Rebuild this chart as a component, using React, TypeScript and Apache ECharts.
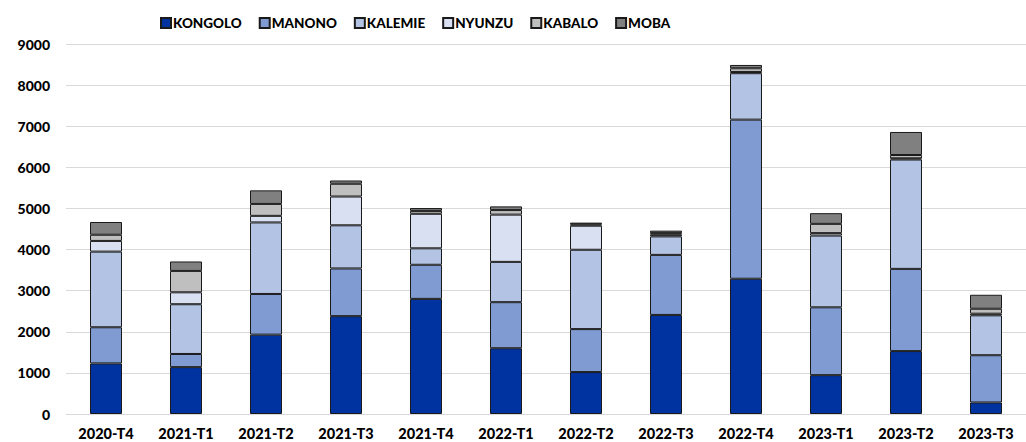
import React, { useEffect, useRef } from "react";
import * as echarts from "echarts";

const categories = ["2020-T4", "2021-T1", "2021-T2", "2021-T3", "2021-T4", "2022-T1", "2022-T2", "2022-T3", "2022-T4", "2023-T1", "2023-T2", "2023-T3"];
const kongolo = [1230, 1140, 1930, 2380, 2800, 1600, 1020, 2410, 3290, 945, 1530, 280];
const manono = [880, 320, 990, 1160, 830, 1120, 1045, 1460, 3870, 1650, 2000, 1150];
const kalemie = [1840, 1210, 1740, 1050, 400, 980, 1930, 450, 1130, 1745, 2660, 970];
const nyunzu = [260, 290, 160, 700, 840, 1150, 585, 40, 30, 60, 30, 40];
const kabalo = [150, 520, 290, 310, 70, 110, 35, 40, 90, 225, 80, 120];
const moba = [310, 230, 330, 80, 70, 90, 40, 60, 80, 260, 560, 340];
const yTicks = [0, 1000, 2000, 3000, 4000, 5000, 6000, 7000, 8000, 9000];

const seriesDefs = [
  { name: "KONGOLO", data: kongolo, color: "#0033A0" },
  { name: "MANONO", data: manono, color: "#7F9BD1" },
  { name: "KALEMIE", data: kalemie, color: "#B3C3E4" },
  { name: "NYUNZU", data: nyunzu, color: "#D9E0F2" },
  { name: "KABALO", data: kabalo, color: "#BFBFBF" },
  { name: "MOBA", data: moba, color: "#808080" },
];

const FONT = "Lato, 'Open Sans', sans-serif";

export default function App() {
  const ref = useRef<HTMLDivElement>(null);
  useEffect(() => {
    document.body.style.margin = "0";
    if (!ref.current) return;
    const chart = echarts.init(ref.current, undefined, { renderer: "svg" });
    chart.setOption({
      animation: false,
      backgroundColor: "#ffffff",
      legend: {
        left: 155,
        top: 11,
        itemWidth: 10,
        itemHeight: 10,
        itemGap: 17,
        icon: "rect",
        textStyle: { fontFamily: FONT, fontWeight: 900, fontSize: 13.5, color: "#000", padding: [0, 0, 0, -3] },
      },
      grid: { left: 66, right: -8, top: 44, bottom: 28, containLabel: false },
      xAxis: {
        type: "category",
        data: categories,
        axisLine: { show: true, lineStyle: { color: "#d9d9d9", width: 1 } },
        axisTick: { show: false },
        axisLabel: { fontFamily: FONT, fontWeight: 900, fontSize: 14.5, color: "#000", margin: 12 },
      },
      yAxis: {
        type: "value",
        min: yTicks[0],
        max: yTicks[yTicks.length - 1],
        interval: 1000,
        axisLine: { show: false },
        axisTick: { show: false },
        splitLine: { lineStyle: { color: "#d9d9d9", width: 1 } },
        axisLabel: {
          fontFamily: FONT,
          fontWeight: 900,
          fontSize: 14,
          color: "#000",
          margin: 16,
          formatter: (v: number) => String(v),
        },
      },
      series: seriesDefs.map((s) => ({
        name: s.name,
        type: "bar",
        stack: "total",
        barWidth: 32,
        data: s.data,
        itemStyle: { color: s.color, borderColor: "#1a1a1a", borderWidth: 1 },
      })),
    });
    return () => chart.dispose();
  }, []);
  return <div ref={ref} style={{ width: 1026, height: 442 }} />;
}
